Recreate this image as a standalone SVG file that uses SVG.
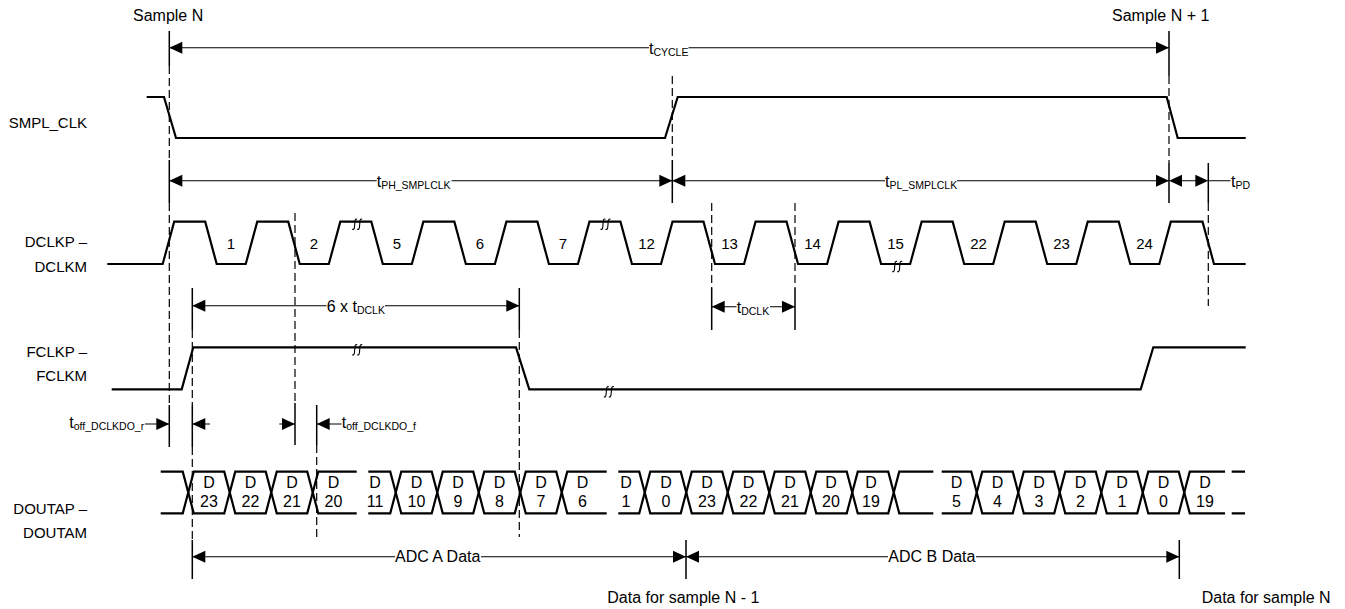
<svg xmlns="http://www.w3.org/2000/svg" xmlns:xlink="http://www.w3.org/1999/xlink" width="1345" height="609" viewBox="0 0 1345 609">
<style>
text{font-family:"Liberation Sans",Arial,sans-serif;fill:#000}
.lbl{font-size:15px;text-anchor:end}
.t{font-size:16px}
.sub{font-size:10.5px}
.num{font-size:15px;text-anchor:middle}
.d{font-size:16px;text-anchor:middle}
.wave{fill:none;stroke:#000;stroke-width:2.2;stroke-linejoin:miter}
.dim{fill:none;stroke:#000;stroke-width:1.1}
.tick{fill:none;stroke:#000;stroke-width:1.5}
.dash{fill:none;stroke:#000;stroke-width:1.2;stroke-dasharray:8 4}
.brk{fill:none;stroke:#000;stroke-width:1.1}
</style>
<defs>
<path id="aL" d="M0,0 L13,-6 L13,6 Z"/>
<path id="aR" d="M0,0 L-13,-6 L-13,6 Z"/>
<path id="brk" class="brk" d="M0.5,-4.5 Q-1.5,-5.5 -1.8,-2 L-2.2,3 Q-2.5,6.5 -4.5,5.5 M5.5,-4.5 Q3.5,-5.5 3.2,-2 L2.8,3 Q2.5,6.5 0.5,5.5"/>
</defs>
<rect width="1345" height="609" fill="#fff"/>

<g id="labels">
<text class="t" x="133" y="21">Sample N</text>
<text class="t" x="1112" y="20.5">Sample N + 1</text>
<text class="t" x="607.3" y="603.3">Data for sample N - 1</text>
<text class="t" x="1201.7" y="603.3">Data for sample N</text>
</g>

<g id="smpl_clk">
<text class="lbl" x="87" y="128">SMPL_CLK</text>
<polyline class="wave" points="146.7,97 164,97 176,138 665,138 677.7,97 1166.7,97 1177.7,138 1245.7,138"/>
</g>

<g id="dclk">
<text class="lbl" x="87" y="247">DCLKP –</text>
<text class="lbl" x="87" y="272">DCLKM</text>
<polyline class="wave" points="107.3,264 162.7,264 174.2,221.7 205.2,221.7 216.7,264 245.75,264 257.25,221.7 288.25,221.7 299.75,264 328.8,264 340.3,221.7 371.3,221.7 382.8,264 411.85,264 423.35,221.7 454.35,221.7 465.85,264 494.9,264 506.4,221.7 537.4,221.7 548.9,264 577.95,264 589.45,221.7 620.45,221.7 631.95,264 661,264 672.5,221.7 703.5,221.7 715,264 744.05,264 755.55,221.7 786.55,221.7 798.05,264 827.1,264 838.6,221.7 869.6,221.7 881.1,264 910.15,264 921.65,221.7 952.65,221.7 964.15,264 993.2,264 1004.7,221.7 1035.7,221.7 1047.2,264 1076.25,264 1087.75,221.7 1118.75,221.7 1130.25,264 1159.3,264 1170.8,221.7 1202.5,221.7 1214,264 1245.7,264"/>
<use xlink:href="#brk" href="#brk" x="356.7" y="223.7"/>
<use xlink:href="#brk" href="#brk" x="605" y="223.7"/>
<use xlink:href="#brk" href="#brk" x="896.7" y="266"/>
<text class="num" x="231" y="249.3">1</text>
<text class="num" x="314" y="249.3">2</text>
<text class="num" x="397" y="249.3">5</text>
<text class="num" x="480" y="249.3">6</text>
<text class="num" x="563" y="249.3">7</text>
<text class="num" x="646.5" y="249.3">12</text>
<text class="num" x="729.5" y="249.3">13</text>
<text class="num" x="812.5" y="249.3">14</text>
<text class="num" x="895.5" y="249.3">15</text>
<text class="num" x="978.5" y="249.3">22</text>
<text class="num" x="1061.5" y="249.3">23</text>
<text class="num" x="1144.5" y="249.3">24</text>
</g>

<g id="fclk">
<text class="lbl" x="87" y="356.7">FCLKP –</text>
<text class="lbl" x="87" y="381">FCLKM</text>
<polyline class="wave" points="111.7,389.3 181.7,389.3 193.3,347.3 516,347.3 529.3,389.3 1140.7,389.3 1153.3,347.3 1245.7,347.3"/>
<use xlink:href="#brk" href="#brk" x="356.7" y="349.3"/>
<use xlink:href="#brk" href="#brk" x="608.3" y="391.3"/>
</g>

<g id="dout">
<text class="lbl" x="87" y="514">DOUTAP –</text>
<text class="lbl" x="87" y="538">DOUTAM</text>
<polyline class="wave" points="160.7,471.7 182.75,471.7 193.75,513.3 224.25,513.3 235.25,471.7 265.75,471.7 276.75,513.3 307.25,513.3 318.25,471.7 356.7,471.7"/>
<polyline class="wave" points="160.7,513.3 182.75,513.3 193.75,471.7 224.25,471.7 235.25,513.3 265.75,513.3 276.75,471.7 307.25,471.7 318.25,513.3 356.7,513.3"/>
<polyline class="wave" points="368.3,471.7 390.25,471.7 401.25,513.3 431.75,513.3 442.75,471.7 473.25,471.7 484.25,513.3 514.75,513.3 525.75,471.7 556.25,471.7 567.25,513.3 606.7,513.3"/>
<polyline class="wave" points="368.3,513.3 390.25,513.3 401.25,471.7 431.75,471.7 442.75,513.3 473.25,513.3 484.25,471.7 514.75,471.7 525.75,513.3 556.25,513.3 567.25,471.7 606.7,471.7"/>
<polyline class="wave" points="618.3,471.7 639.25,471.7 650.25,513.3 680.75,513.3 691.75,471.7 722.25,471.7 733.25,513.3 763.75,513.3 774.75,471.7 805.25,471.7 816.25,513.3 846.75,513.3 857.75,471.7 888.25,471.7 899.25,513.3 933.3,513.3"/>
<polyline class="wave" points="618.3,513.3 639.25,513.3 650.25,471.7 680.75,471.7 691.75,513.3 722.25,513.3 733.25,471.7 763.75,471.7 774.75,513.3 805.25,513.3 816.25,471.7 846.75,471.7 857.75,513.3 888.25,513.3 899.25,471.7 933.3,471.7"/>
<polyline class="wave" points="941.7,471.7 971.25,471.7 982.25,513.3 1012.75,513.3 1023.75,471.7 1054.25,471.7 1065.25,513.3 1095.75,513.3 1106.75,471.7 1137.25,471.7 1148.25,513.3 1178.75,513.3 1189.75,471.7 1225,471.7"/>
<polyline class="wave" points="941.7,513.3 971.25,513.3 982.25,471.7 1012.75,471.7 1023.75,513.3 1054.25,513.3 1065.25,471.7 1095.75,471.7 1106.75,513.3 1137.25,513.3 1148.25,471.7 1178.75,471.7 1189.75,513.3 1225,513.3"/>
<path class="wave" d="M1231.7,471.7 H1245 M1231.7,513.3 H1245"/>
<g class="d">
<text x="209" y="488.3">D</text><text x="209" y="506.7">23</text>
<text x="250.5" y="488.3">D</text><text x="250.5" y="506.7">22</text>
<text x="292" y="488.3">D</text><text x="292" y="506.7">21</text>
<text x="333.5" y="488.3">D</text><text x="333.5" y="506.7">20</text>
<text x="375" y="488.3">D</text><text x="375" y="506.7">11</text>
<text x="416.5" y="488.3">D</text><text x="416.5" y="506.7">10</text>
<text x="458" y="488.3">D</text><text x="458" y="506.7">9</text>
<text x="499.5" y="488.3">D</text><text x="499.5" y="506.7">8</text>
<text x="541" y="488.3">D</text><text x="541" y="506.7">7</text>
<text x="582.5" y="488.3">D</text><text x="582.5" y="506.7">6</text>
<text x="626" y="488.3">D</text><text x="626" y="506.7">1</text>
<text x="666" y="488.3">D</text><text x="666" y="506.7">0</text>
<text x="707" y="488.3">D</text><text x="707" y="506.7">23</text>
<text x="748.5" y="488.3">D</text><text x="748.5" y="506.7">22</text>
<text x="790" y="488.3">D</text><text x="790" y="506.7">21</text>
<text x="831" y="488.3">D</text><text x="831" y="506.7">20</text>
<text x="871" y="488.3">D</text><text x="871" y="506.7">19</text>
<text x="956.5" y="488.3">D</text><text x="956.5" y="506.7">5</text>
<text x="997.5" y="488.3">D</text><text x="997.5" y="506.7">4</text>
<text x="1039" y="488.3">D</text><text x="1039" y="506.7">3</text>
<text x="1080.5" y="488.3">D</text><text x="1080.5" y="506.7">2</text>
<text x="1122" y="488.3">D</text><text x="1122" y="506.7">1</text>
<text x="1163.5" y="488.3">D</text><text x="1163.5" y="506.7">0</text>
<text x="1205" y="488.3">D</text><text x="1205" y="506.7">19</text>
</g>
</g>

<g id="connectors">
<!-- reference verticals -->
<path class="tick" d="M169.3,31 V66 M169.3,160 V203 M169.3,405 V447"/>
<path class="dash" d="M169.3,66 V160 M169.3,203 V405"/>
<path class="dash" d="M672.3,76 V160"/>
<path class="tick" d="M672.3,160 V203"/>
<path class="tick" d="M1169,31 V76 M1169,163 V203"/>
<path class="dash" d="M1169,76 V163"/>
<path class="tick" d="M1208.3,163 V203"/>
<path class="dash" d="M1208.3,203 V306"/>
<path class="dash" d="M295,213 V403"/>
<path class="tick" d="M295,403 V445"/>
<path class="dash" d="M711.7,203 V288 M795,203 V288"/>
<path class="tick" d="M711.7,288 V330 M795,288 V330"/>
<path class="tick" d="M192.3,288 V330 M192.3,405 V447 M192.3,540 V579"/>
<path class="dash" d="M192.3,330 V405 M192.3,447 V540"/>
<path class="tick" d="M316.7,405 V445"/>
<path class="dash" d="M316.7,445 V539"/>
<path class="tick" d="M519.3,288 V330"/>
<path class="dash" d="M519.3,330 V537"/>
<path class="tick" d="M686,540 V579 M1179.3,540 V579"/>

<!-- tCYCLE -->
<path class="dim" d="M169.3,47.7 H649 M688.5,47.7 H1169"/>
<use href="#aL" xlink:href="#aL" x="169.3" y="47.7"/>
<use href="#aR" xlink:href="#aR" x="1169" y="47.7"/>
<text class="t" x="649" y="53.5">t<tspan class="sub" dy="2">CYCLE</tspan></text>

<!-- tPH / tPL / tPD -->
<path class="dim" d="M169.3,180.7 H376.7 M451.5,180.7 H672.3 M672.3,180.7 H885 M957,180.7 H1169 M1182,180.7 H1196 M1208.3,180.7 H1230.5"/>
<use href="#aL" xlink:href="#aL" x="169.3" y="180.7"/>
<use href="#aR" xlink:href="#aR" x="672.3" y="180.7"/>
<use href="#aL" xlink:href="#aL" x="672.3" y="180.7"/>
<use href="#aR" xlink:href="#aR" x="1169" y="180.7"/>
<use href="#aL" xlink:href="#aL" x="1169" y="180.7"/>
<use href="#aR" xlink:href="#aR" x="1208.3" y="180.7"/>
<text class="t" x="376.7" y="186.5">t<tspan class="sub" dy="2">PH_SMPLCLK</tspan></text>
<text class="t" x="885" y="186.5">t<tspan class="sub" dy="2">PL_SMPLCLK</tspan></text>
<text class="t" x="1231" y="186.5">t<tspan class="sub" dy="2">PD</tspan></text>

<!-- 6 x tDCLK -->
<path class="dim" d="M192.3,305.7 H326.5 M385,305.7 H519.3"/>
<use href="#aL" xlink:href="#aL" x="192.3" y="305.7"/>
<use href="#aR" xlink:href="#aR" x="519.3" y="305.7"/>
<text class="t" x="326.7" y="311.7">6 x t<tspan class="sub" dy="2">DCLK</tspan></text>

<!-- tDCLK -->
<path class="dim" d="M711.7,306.7 H736.5 M770,306.7 H795"/>
<use href="#aL" xlink:href="#aL" x="711.7" y="306.7"/>
<use href="#aR" xlink:href="#aR" x="795" y="306.7"/>
<text class="t" x="736.7" y="312.5">t<tspan class="sub" dy="2">DCLK</tspan></text>

<!-- toff -->
<path class="dim" d="M145,424 H169.3 M192.3,424 H210 M279.3,424 H295 M316.7,424 H341.5"/>
<use href="#aR" xlink:href="#aR" x="169.3" y="424"/>
<use href="#aL" xlink:href="#aL" x="192.3" y="424"/>
<use href="#aR" xlink:href="#aR" x="295" y="424"/>
<use href="#aL" xlink:href="#aL" x="316.7" y="424"/>
<text class="t" x="69.3" y="427.5">t<tspan class="sub" dy="2">off_DCLKDO_r</tspan></text>
<text class="t" x="341.7" y="428">t<tspan class="sub" dy="2">off_DCLKDO_f</tspan></text>

<!-- ADC A / B -->
<path class="dim" d="M192.3,556.7 H395 M481,556.7 H686 M686,556.7 H888 M976,556.7 H1179.3"/>
<use href="#aL" xlink:href="#aL" x="192.3" y="556.7"/>
<use href="#aR" xlink:href="#aR" x="686" y="556.7"/>
<use href="#aL" xlink:href="#aL" x="686" y="556.7"/>
<use href="#aR" xlink:href="#aR" x="1179.3" y="556.7"/>
<text class="t" x="395" y="562">ADC A Data</text>
<text class="t" x="888.3" y="562">ADC B Data</text>
</g>
</svg>
